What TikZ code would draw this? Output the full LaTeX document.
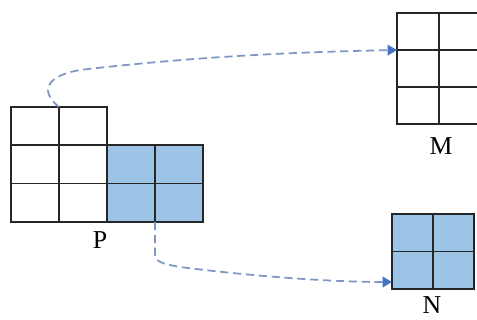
\documentclass[tikz,border=0pt]{standalone}
\usepackage{fontspec}
\setmainfont{Liberation Serif}
\usetikzlibrary{arrows.meta}
\definecolor{cellblue}{RGB}{157,195,230}
\definecolor{linkblue}{RGB}{125,150,195}
\definecolor{tipblue}{RGB}{68,114,196}
\begin{document}
\begin{tikzpicture}[x=0.03cm, y=-0.03cm,
    cell/.style={draw=black!85, line width=1.5pt, inner sep=0pt, outer sep=0pt},
    pcell/.style={cell, minimum width=1.44cm, minimum height=1.15cm},
    mcell/.style={cell, minimum width=1.26cm, minimum height=1.11cm},
    ncell/.style={cell, minimum width=1.23cm, minimum height=1.125cm, fill=cellblue},
    blue cell/.style={fill=cellblue},
    letter/.style={font=\fontsize{22}{26}\selectfont},
    link/.style={linkblue, line width=1.5pt, dash pattern=on 7pt off 4pt,
        -{Triangle[length=8pt, width=9pt, fill=tipblue, color=tipblue]}}]
    \useasboundingbox (0,0) rectangle (477,320);
    \clip (0,0) rectangle (477,320);
    
    % matrix P
    \foreach \r in {1,2,3}
    \foreach \c in {1,2}
    \node [pcell] (P-\r-\c) at ({11+48*\c-24},{107+38.3*\r-19.15}) {};
    
    \foreach \r in {2,3}
    \foreach \c in {3,4}
    \node [pcell, blue cell] (P-\r-\c) at ({11+48*\c-24},{107+38.3*\r-19.15}) {};
    
    % matrix M
    \foreach \r in {1,2,3}
    \foreach \c in {1,2}
    \node [mcell] (M-\r-\c) at ({397+42*\c-21},{13+37*\r-18.5}) {};
    
    % matrix N
    \foreach \r in {1,2}
    \foreach \c in {1,2}
    \node [ncell] (N-\r-\c) at ({392+41*\c-20.5},{214+37.5*\r-18.75}) {};
    
    %   labels
    \node [letter] (P-label) at (100,240) {P};
    \node [letter] (M-label) at (441,146) {M};
    \node [letter] (N-label) at (432,305) {N};
    
    % links
    \coordinate (N-in) at (392,282);
    \draw [link] (P-1-1.north east) .. controls (40,92) and (45,76) .. (80,70)
        .. controls (200,56) and (300,52) .. (M-2-1.north west);
    \draw [link] (P-3-3.south east) -- ++(0,32)
        .. controls (155,262) and (163,264) .. (180,267)
        .. controls (250,276) and (330,282) .. (N-in);
    
\end{tikzpicture}
\end{document}
